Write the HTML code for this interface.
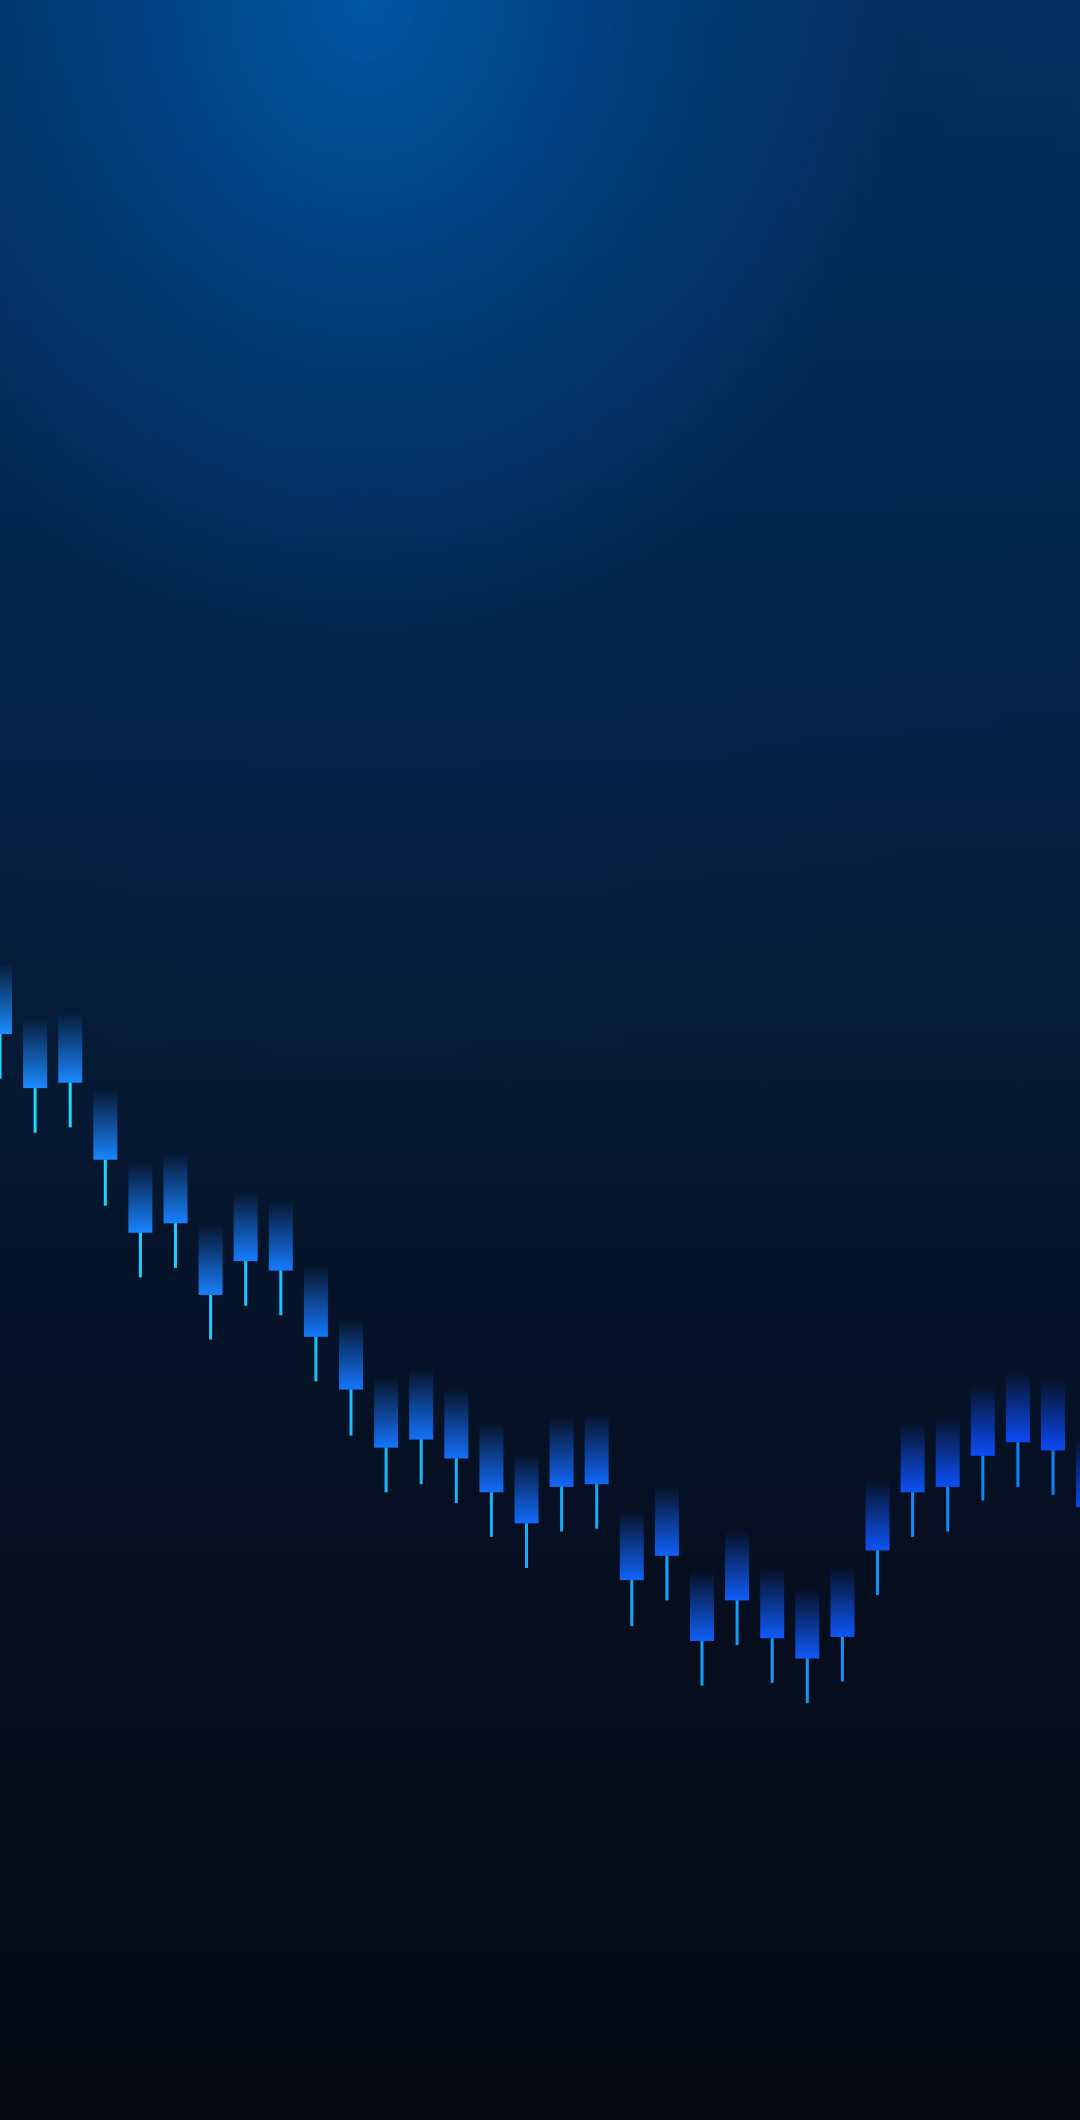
<!DOCTYPE html>
<html><head><meta charset="utf-8">
<style>
html,body{margin:0;padding:0;}
body{width:1080px;height:2120px;overflow:hidden;
background:
radial-gradient(ellipse 900px 1100px at 365px 0px, rgba(0,88,166,0.95) 0%, rgba(0,70,140,0.6) 30%, rgba(4,40,85,0.25) 60%, rgba(4,20,45,0) 100%),
linear-gradient(180deg,#043060 0%,#04274f 25%,#061d3a 45%,#06142a 60%,#060d1c 80%,#060914 100%);}
svg{position:absolute;left:0;top:0;}
</style></head>
<body>
<svg id="chart" width="1080" height="2120"></svg>
<script>
const closes = [80.3,76.3,76.7,71.0,65.6,66.3,61.0,63.5,62.8,57.9,54.0,49.7,50.3,48.9,46.4,44.1,46.8,47.0,39.9,41.7,35.4,38.4,35.6,34.1,35.7,42.1,46.4,46.8,49.1,50.1,49.5,45.3];
const lows = [77.0,73.0,73.4,67.6,62.3,63.0,57.7,60.2,59.5,54.6,50.6,46.4,47.0,45.6,43.1,40.8,43.5,43.7,36.5,38.4,32.1,35.1,32.3,30.8,32.4,38.8,43.1,43.5,45.8,46.8,46.2,42.0];
const opens = closes.map(c => c + 5.2);

const NS = "http://www.w3.org/2000/svg";
const svg = document.getElementById('chart');
const xScale = i => i * 35.1;
const yScale = v => (1568 - v * 10) * 1.3517;
function lerp(a,b,t){return Math.round(a+(b-a)*t);}
function col(c1,c2,t){return `rgb(${lerp(c1[0],c2[0],t)},${lerp(c1[1],c2[1],t)},${lerp(c1[2],c2[2],t)})`;}
const defs = document.createElementNS(NS,'defs');
svg.appendChild(defs);
const n = closes.length;
for (let i = 0; i < n; i++) {
  const t = i / (n - 1);
  const body = col([26,140,255],[10,70,245],t);
  const wick = col([32,220,255],[10,128,255],t);
  const g = document.createElementNS(NS,'linearGradient');
  g.setAttribute('id','g'+i); g.setAttribute('x1','0'); g.setAttribute('y1','0'); g.setAttribute('x2','0'); g.setAttribute('y2','1');
  g.innerHTML = `<stop offset="0" stop-color="${body}" stop-opacity="0"/><stop offset="0.55" stop-color="${body}" stop-opacity="0.55"/><stop offset="1" stop-color="${body}" stop-opacity="1"/>`;
  defs.appendChild(g);
  const cx = xScale(i);
  const yb = yScale(closes[i]);
  const yt = yScale(opens[i]);
  const yl = yScale(lows[i]);
  const grp = document.createElementNS(NS,'g');
  
  
  const r = document.createElementNS(NS,'rect');
  
  
  r.setAttribute('x', cx - 12); r.setAttribute('y', yt);
  r.setAttribute('width', 24); r.setAttribute('height', yb - yt);
  r.setAttribute('fill', 'url(#g' + i + ')');
  grp.appendChild(r);
  const w = document.createElementNS(NS,'rect');
  
  
  w.setAttribute('x', cx - 1.5); w.setAttribute('y', yb);
  w.setAttribute('width', 3); w.setAttribute('height', yl - yb);
  w.setAttribute('fill', wick);
  grp.appendChild(w);
  svg.appendChild(grp);
}
</script>
</body></html>
